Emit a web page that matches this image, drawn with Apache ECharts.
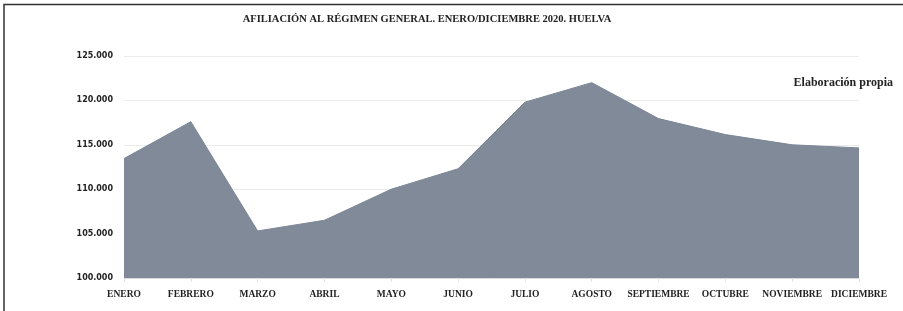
<!DOCTYPE html>
<html>
<head>
<meta charset="utf-8">
<script src="https://cdn.jsdelivr.net/npm/echarts@6/dist/echarts.min.js"></script>
<style>
  html, body { margin: 0; padding: 0; background: #fff; }
  #chart { width: 903px; height: 311px; }
</style>
</head>
<body>
<div id="chart"></div>
<script>
// meses y afiliados
const months = ['ENERO', 'FEBRERO', 'MARZO', 'ABRIL', 'MAYO', 'JUNIO', 'JULIO',
  'AGOSTO', 'SEPTIEMBRE', 'OCTUBRE', 'NOVIEMBRE', 'DICIEMBRE']
const afiliados = [113450, 117600, 105300, 106500, 110000, 112300, 119800,
  122000, 117950, 116150, 115000, 114650]
const yMin = 100000
const yMax = 125000
const yStep = 5000

const myChart = echarts.init(document.getElementById('chart'))

const fmt = v => String(v).replace(/\B(?=(\d{3})+(?!\d))/g, '.')

const options = {
  animation: false,
  title: {
    text: 'AFILIACIÓN AL RÉGIMEN GENERAL. ENERO/DICIEMBRE 2020. HUELVA',
    left: 422,
    textAlign: 'center',
    top: 9,
    textStyle: {
      fontFamily: 'Liberation Serif',
      fontWeight: 'bold',
      fontSize: 10.5,
      color: '#222'
    }
  },
  graphic: [
    { // marco (solo borde izquierdo y superior visibles)
      type: 'polyline',
      shape: { points: [[4, 311], [4, 4.5], [903, 4.5]] },
      style: { stroke: '#333', lineWidth: 1.5, fill: null }
    },
    {
      type: 'text',
      right: 10,
      top: 77,
      style: {
        text: 'Elaboración propia',
        font: 'bold 12px "Liberation Serif"',
        fill: '#222'
      }
    }
  ],
  grid: {
    left: 124,
    right: 44,
    top: 56,
    bottom: 33
  },
  xAxis: {
    type: 'category',
    data: months,
    boundaryGap: false,
    axisLine: { show: true, lineStyle: { color: '#d9d9d9' } },
    axisTick: { show: true, length: 4, lineStyle: { color: '#e3e3e3' } },
    splitLine: { show: false },
    axisLabel: {
      interval: 0,
      margin: 12,
      fontFamily: 'Liberation Serif',
      fontWeight: 'bold',
      fontSize: 9.5,
      color: '#222'
    }
  },
  yAxis: {
    type: 'value',
    min: yMin,
    max: yMax,
    interval: yStep,
    axisLine: { show: false },
    axisTick: { show: false },
    splitLine: { show: true, lineStyle: { color: '#ececec', width: 1 } },
    axisLabel: {
      margin: 11,
      formatter: fmt,
      fontFamily: 'DejaVu Sans',
      fontWeight: 'bold',
      fontSize: 8,
      color: '#222'
    }
  },
  series: [{
    type: 'line',
    data: afiliados,
    symbol: 'none',
    lineStyle: { width: 1, color: '#7c8696' },
    areaStyle: {
      color: '#808a99',
      opacity: 1,
      decal: {
        symbol: 'rect',
        symbolSize: 1,
        dashArrayX: [1, 2],
        dashArrayY: [1, 0],
        rotation: 0,
        color: 'rgba(255,255,255,0.12)'
      }
    }
  }]
}
myChart.setOption(options)
</script>
</body>
</html>
